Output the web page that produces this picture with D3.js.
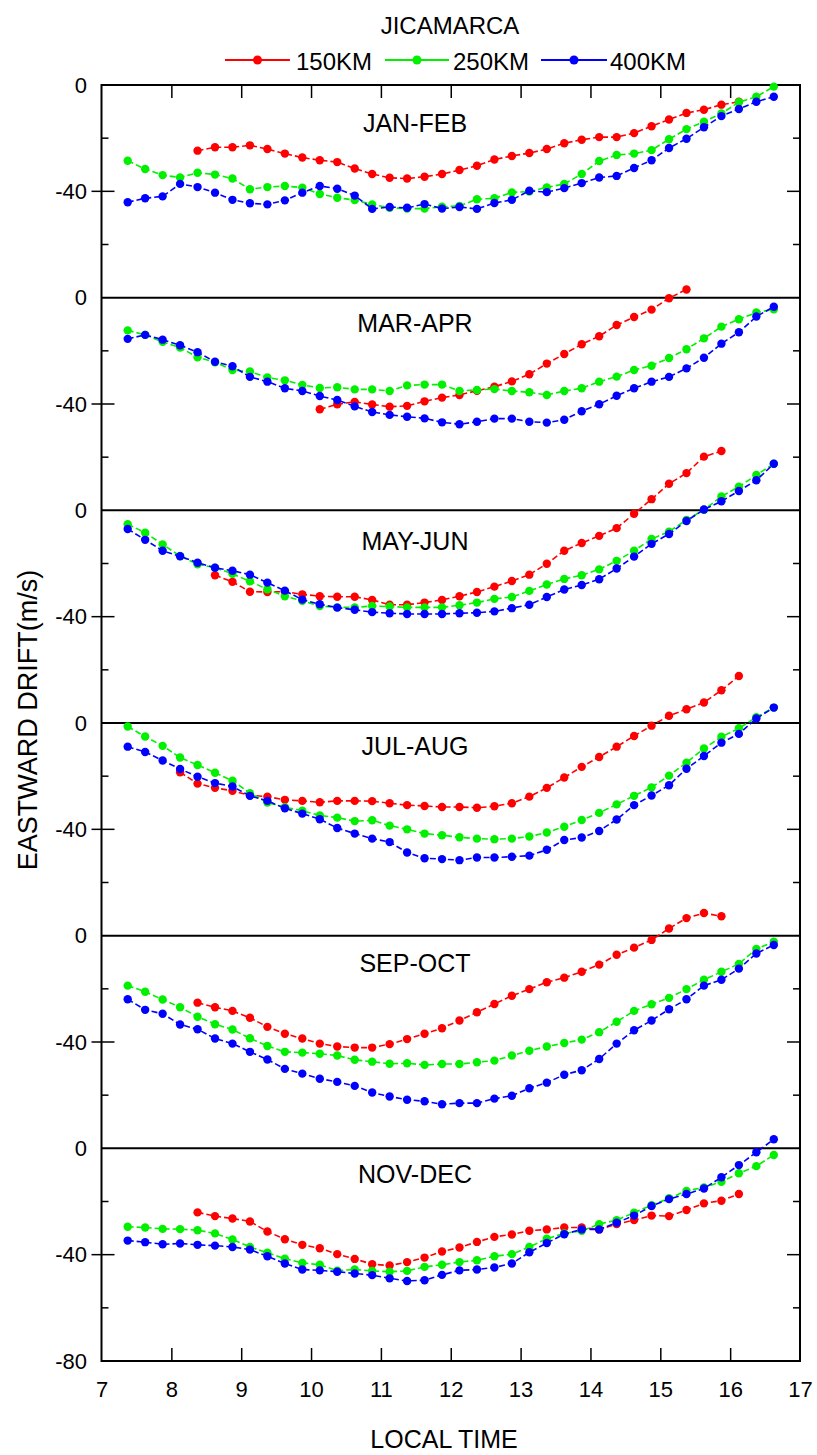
<!DOCTYPE html>
<html><head><meta charset="utf-8">
<script src="https://cdn.jsdelivr.net/npm/d3@7"></script>
<style>
body{margin:0;background:#fff}
svg{display:block;font-family:"Liberation Sans",Arial,sans-serif}
</style>
</head><body><svg id="chart" width="817" height="1455"></svg>
<script>
// ---------------- DATA ----------------
const chartTitle = "JICAMARCA";
const seasons = ["JAN-FEB","MAR-APR","MAY-JUN","JUL-AUG","SEP-OCT","NOV-DEC"];
const altitudes = ["150KM","250KM","400KM"];
const localTime = [7.375,7.625,7.875,8.125,8.375,8.625,8.875,9.125,9.375,9.625,9.875,10.125,10.375,10.625,10.875,11.125,11.375,11.625,11.875,12.125,12.375,12.625,12.875,13.125,13.375,13.625,13.875,14.125,14.375,14.625,14.875,15.125,15.375,15.625,15.875,16.125,16.375,16.625];
const xTicks = [7,8,9,10,11,12,13,14,15,16,17];
const yTickLabels = ["0","-40"];
const yBottomLabel = "-80";

// eastward drift (m/s), one value per localTime entry (null = no data)
const drift150_JANFEB = [null,null,null,null,-24.7,-23.4,-23.4,-22.7,-24.1,-25.8,-27.3,-28.3,-29.0,-31.4,-33.5,-34.9,-35.2,-34.5,-33.5,-32.0,-30.4,-28.0,-26.7,-25.6,-24.1,-21.9,-20.6,-19.6,-19.6,-18.1,-15.5,-13.0,-10.5,-9.3,-7.4,-6.3,null,null];
const drift250_JANFEB = [-28.5,-31.6,-33.9,-34.8,-33.0,-33.7,-35.2,-39.2,-38.4,-38.0,-38.6,-41.0,-42.4,-43.3,-44.9,-46.2,-46.5,-46.5,-45.8,-45.5,-43.0,-42.6,-40.4,-40.1,-38.5,-37.2,-33.5,-28.6,-26.3,-25.8,-24.5,-20.4,-16.6,-13.8,-10.7,-6.5,-4.4,-0.6];
const drift400_JANFEB = [-44.1,-42.6,-41.9,-37.2,-38.4,-40.5,-43.2,-44.5,-44.9,-43.4,-40.5,-38.0,-39.0,-41.6,-46.6,-45.9,-46.2,-44.8,-46.5,-45.9,-46.6,-44.4,-43.2,-39.8,-40.3,-38.8,-36.9,-34.8,-34.2,-31.2,-28.3,-23.7,-20.2,-15.9,-11.7,-9.0,-6.3,-4.4];

const drift150_MARAPR = [null,null,null,null,null,null,null,null,null,null,null,-42.0,-40.1,-39.2,-40.2,-41.0,-40.7,-39.0,-37.6,-36.6,-35.0,-33.5,-31.5,-28.8,-24.8,-21.2,-17.5,-14.5,-10.3,-7.3,-4.5,-0.2,3.1,null,null,null,null,null];
const drift250_MARAPR = [-12.3,-14.0,-16.6,-18.8,-22.4,-24.3,-27.2,-27.8,-30.0,-31.1,-32.8,-34.0,-33.7,-34.5,-34.5,-35.1,-33.0,-32.7,-32.7,-35.1,-34.7,-34.4,-35.1,-35.6,-36.6,-35.1,-34.1,-31.6,-29.7,-27.2,-25.6,-22.7,-19.4,-15.3,-10.9,-8.1,-5.6,-4.4];
const drift400_MARAPR = [-15.5,-14.0,-15.8,-17.9,-20.5,-24.1,-25.8,-29.8,-31.6,-34.1,-35.1,-37.0,-38.5,-40.9,-43.0,-44.1,-44.8,-45.4,-46.9,-47.6,-46.7,-45.5,-45.5,-46.7,-47.0,-45.9,-42.7,-40.1,-36.9,-34.1,-31.6,-29.8,-26.6,-22.6,-17.3,-13.0,-7.1,-3.4];

const drift150_MAYJUN = [null,null,null,null,null,-24.4,-26.9,-30.6,-30.7,-30.6,-31.6,-32.3,-32.5,-32.5,-33.7,-35.5,-35.5,-34.7,-33.7,-32.3,-30.7,-28.7,-26.6,-24.2,-20.1,-15.2,-12.3,-9.6,-6.7,-1.3,4.2,10.0,14.0,20.2,22.3,null,null,null];
const drift250_MAYJUN = [-5.2,-8.4,-12.8,-17.2,-20.3,-21.6,-23.9,-26.7,-29.7,-32.3,-34.0,-36.0,-36.5,-36.5,-36.0,-36.2,-36.5,-36.5,-36.5,-35.7,-34.7,-33.3,-32.6,-30.3,-27.9,-25.8,-24.4,-22.2,-19.0,-15.2,-10.8,-8.0,-3.6,0.2,5.2,8.9,13.3,17.5];
const drift400_MAYJUN = [-7.0,-11.1,-15.2,-17.3,-19.7,-21.6,-22.7,-24.2,-27.2,-30.2,-33.6,-35.3,-36.6,-37.4,-38.3,-38.7,-39.0,-39.0,-39.0,-38.7,-38.5,-38.0,-36.8,-35.5,-32.6,-29.8,-28.1,-25.9,-21.9,-17.4,-12.6,-8.9,-4.0,0.3,3.4,7.3,11.3,17.5];

const drift150_JULAUG = [null,null,null,-18.5,-22.8,-24.4,-25.5,-27.2,-27.7,-28.9,-29.3,-29.8,-29.3,-29.3,-29.4,-30.2,-30.9,-31.2,-31.6,-31.6,-31.9,-31.3,-30.2,-27.7,-24.4,-20.5,-16.5,-12.8,-8.9,-4.9,-1.0,2.7,5.2,7.7,12.3,17.7,null,null];
const drift250_JULAUG = [-1.3,-5.1,-8.6,-13.0,-15.8,-18.7,-21.7,-26.4,-29.9,-31.7,-33.0,-34.8,-35.6,-36.9,-36.6,-38.6,-40.0,-41.6,-42.2,-43.0,-43.5,-43.7,-43.5,-42.7,-41.2,-39.0,-36.5,-33.8,-30.6,-27.4,-24.2,-19.8,-14.9,-9.6,-5.2,-2.0,2.2,5.8];
const drift400_JULAUG = [-8.9,-10.9,-14.1,-17.3,-20.2,-22.6,-23.9,-27.4,-29.3,-32.1,-34.1,-36.2,-39.5,-41.6,-43.5,-44.8,-48.7,-50.9,-51.2,-51.6,-50.6,-50.6,-50.3,-49.9,-47.7,-44.0,-43.1,-40.6,-36.3,-30.9,-27.3,-23.4,-17.2,-12.4,-7.4,-4.1,1.7,5.8];

const drift150_SEPOCT = [null,null,null,null,-25.2,-26.9,-28.3,-30.9,-34.3,-36.9,-38.7,-40.6,-41.7,-42.1,-42.1,-40.8,-38.9,-36.9,-34.8,-31.9,-28.8,-25.7,-22.6,-20.1,-17.5,-15.8,-13.6,-10.9,-7.2,-4.5,-1.6,2.7,6.6,8.5,7.3,null,null,null];
const drift250_SEPOCT = [-18.8,-21.1,-24.0,-26.9,-30.5,-33.3,-35.3,-38.6,-41.5,-43.7,-44.0,-44.4,-45.1,-46.7,-47.4,-48.2,-48.0,-48.6,-48.3,-48.3,-47.6,-47.0,-45.1,-43.3,-41.7,-40.4,-39.1,-36.3,-32.4,-28.3,-25.8,-23.4,-20.1,-16.6,-13.6,-10.6,-5.0,-2.3];
const drift400_SEPOCT = [-23.9,-27.9,-29.4,-33.4,-35.2,-38.7,-40.6,-43.7,-46.6,-50.1,-51.9,-53.8,-55.0,-56.5,-59.0,-60.5,-61.7,-62.3,-63.4,-63.0,-63.0,-61.3,-60.2,-57.4,-55.3,-52.3,-50.6,-46.4,-40.6,-35.6,-31.9,-27.7,-23.9,-18.8,-16.6,-12.4,-6.7,-3.5];

const drift150_NOVDEC = [null,null,null,null,-24.1,-25.5,-26.4,-27.5,-31.3,-34.2,-36.3,-37.6,-39.8,-41.6,-43.6,-44.1,-42.8,-41.1,-38.8,-37.3,-35.2,-33.3,-32.4,-31.0,-30.5,-29.8,-29.8,-30.5,-28.5,-27.0,-25.3,-25.5,-23.2,-20.7,-19.7,-17.2,null,null];
const drift250_NOVDEC = [-29.5,-29.8,-30.3,-30.4,-30.8,-32.0,-34.3,-37.1,-39.3,-41.5,-43.1,-43.8,-46.0,-45.6,-46.1,-46.4,-46.1,-44.6,-43.8,-42.8,-42.1,-40.6,-39.8,-37.1,-34.0,-32.0,-31.0,-28.5,-27.0,-24.2,-21.4,-18.8,-16.0,-14.7,-12.6,-9.4,-6.7,-2.5];
const drift400_NOVDEC = [-34.7,-35.3,-36.1,-35.8,-36.3,-36.6,-37.1,-38.1,-40.6,-43.3,-45.6,-45.9,-46.4,-47.1,-47.7,-48.9,-49.9,-49.6,-47.6,-45.9,-45.6,-44.8,-43.3,-39.1,-35.6,-32.3,-30.5,-30.5,-28.0,-25.3,-21.7,-19.1,-17.2,-15.1,-10.9,-6.3,-1.5,3.4];

const panelData = [
  [drift150_JANFEB, drift250_JANFEB, drift400_JANFEB],
  [drift150_MARAPR, drift250_MARAPR, drift400_MARAPR],
  [drift150_MAYJUN, drift250_MAYJUN, drift400_MAYJUN],
  [drift150_JULAUG, drift250_JULAUG, drift400_JULAUG],
  [drift150_SEPOCT, drift250_SEPOCT, drift400_SEPOCT],
  [drift150_NOVDEC, drift250_NOVDEC, drift400_NOVDEC]
];

// ---------------- STYLE / LAYOUT ----------------
const colors = ["#ff0000","#00f000","#0000ff"];
const panelSpan = 80;               // m/s per panel
const pLeft = 101.5, pRight = 800, pTop = 85, pBottom = 1361;
const labelBaseline = [47, 34.5, 40, 32, 36, 35];
const legendLayout = [
  {x1:225, x2:290, tx:296},
  {x1:385, x2:449, tx:453},
  {x1:541, x2:607, tx:610}
];

const svg = d3.select("#chart");
const nP = seasons.length;
const x = d3.scaleLinear().domain([7,17]).range([pLeft,pRight]);
const y = d3.scaleLinear().domain([-panelSpan*nP, 0]).range([pBottom, pTop]);
const off = k => -panelSpan*k;

// title
svg.append("text").attr("x",450).attr("y",34).attr("text-anchor","middle")
  .attr("font-size",24).text(chartTitle);

// legend
altitudes.forEach((a,i)=>{
  const L = legendLayout[i], ly = 60;
  const g = svg.append("g");
  g.append("line").attr("x1",L.x1).attr("x2",L.x2).attr("y1",ly).attr("y2",ly)
    .attr("stroke",colors[i]).attr("stroke-width",2);
  g.append("circle").attr("cx",(L.x1+L.x2)/2).attr("cy",ly).attr("r",4.5).attr("fill",colors[i]);
  g.append("text").attr("x",L.tx).attr("y",70).attr("font-size",24).text(a);
});

// y labels via axis
const yLabelVals = [], yLabelText = new Map();
for(let k=0;k<nP;k++){
  yLabelVals.push(off(k)); yLabelText.set(off(k), yTickLabels[0]);
  yLabelVals.push(off(k)-40); yLabelText.set(off(k)-40, yTickLabels[1]);
}
yLabelVals.push(-panelSpan*nP); yLabelText.set(-panelSpan*nP, yBottomLabel);
const yAx = svg.append("g").attr("transform",`translate(${pLeft},0)`)
  .call(d3.axisLeft(y).tickValues(yLabelVals).tickSize(0).tickPadding(14.5)
    .tickFormat(v=>yLabelText.get(v)));
yAx.select(".domain").remove();
yAx.selectAll("text").attr("font-size",22).attr("fill","#000");
yAx.attr("font-family",null);

// y tick marks
const majorVals = d3.range(nP).map(k=>off(k)-40);
const minorVals = [];
for(let k=0;k<nP;k++){ minorVals.push(off(k)-20, off(k)-60); }
const tg = svg.append("g").attr("stroke","#000").attr("stroke-width",1.5);
majorVals.forEach(v=>{
  tg.append("line").attr("x1",pLeft-10).attr("x2",pLeft+13).attr("y1",y(v)).attr("y2",y(v));
  tg.append("line").attr("x1",pRight-13).attr("x2",pRight).attr("y1",y(v)).attr("y2",y(v));
});
minorVals.forEach(v=>{
  tg.append("line").attr("x1",pLeft).attr("x2",pLeft+7).attr("y1",y(v)).attr("y2",y(v));
  tg.append("line").attr("x1",pRight-7).attr("x2",pRight).attr("y1",y(v)).attr("y2",y(v));
});

// x axis: labels at bottom, inward ticks top and bottom
const xAx = svg.append("g").attr("transform",`translate(0,${pBottom})`)
  .call(d3.axisBottom(x).tickValues(xTicks).tickSize(0).tickPadding(20).tickFormat(d3.format("d")));
xAx.select(".domain").remove();
xAx.attr("font-family",null);
xAx.selectAll("text").attr("font-size",22).attr("fill","#000");
const inner = xTicks.slice(1,-1);
const xb = svg.append("g").attr("transform",`translate(0,${pBottom})`)
  .call(d3.axisBottom(x).tickValues(inner).tickSize(-13).tickFormat(""));
xb.select(".domain").remove();
xb.selectAll("line").attr("stroke-width",1.5);
const xt = svg.append("g").attr("transform",`translate(0,${pTop})`)
  .call(d3.axisTop(x).tickValues(inner).tickSize(-13).tickFormat(""));
xt.select(".domain").remove();
xt.selectAll("line").attr("stroke-width",1.5);

// frame and panel zero lines
svg.append("rect").attr("x",pLeft).attr("y",pTop).attr("width",pRight-pLeft).attr("height",pBottom-pTop)
  .attr("fill","none").attr("stroke","#000").attr("stroke-width",2);
for(let k=1;k<nP;k++){
  svg.append("line").attr("x1",pLeft).attr("x2",pRight).attr("y1",y(off(k))).attr("y2",y(off(k)))
    .attr("stroke","#000").attr("stroke-width",2);
}

// panel labels
seasons.forEach((s,k)=>{
  svg.append("text").attr("x",415).attr("y",y(off(k))+labelBaseline[k])
    .attr("text-anchor","middle").attr("font-size",25).text(s);
});

// series
const line = d3.line().defined(d=>d.v!==null).x(d=>x(d.t)).y(d=>y(d.v));
panelData.forEach((series,k)=>{
  series.forEach((vals,i)=>{
    const pts = vals.map((v,j)=>({t:localTime[j], v: v===null?null:v+off(k)}));
    const g = svg.append("g");
    g.append("path").datum(pts).attr("d",line).attr("fill","none")
      .attr("stroke",colors[i]).attr("stroke-width",1.6).attr("stroke-dasharray","6,3");
    g.selectAll("circle").data(pts.filter(d=>d.v!==null)).join("circle")
      .attr("cx",d=>x(d.t)).attr("cy",d=>y(d.v)).attr("r",4.2).attr("fill",colors[i]);
  });
});

// axis titles
svg.append("text").attr("x",444).attr("y",1448).attr("text-anchor","middle")
  .attr("font-size",25).text("LOCAL TIME");
svg.append("text").attr("transform",`translate(37,720) rotate(-90)`)
  .attr("text-anchor","middle").attr("font-size",27).text("EASTWARD DRIFT(m/s)");
</script>
</body></html>
